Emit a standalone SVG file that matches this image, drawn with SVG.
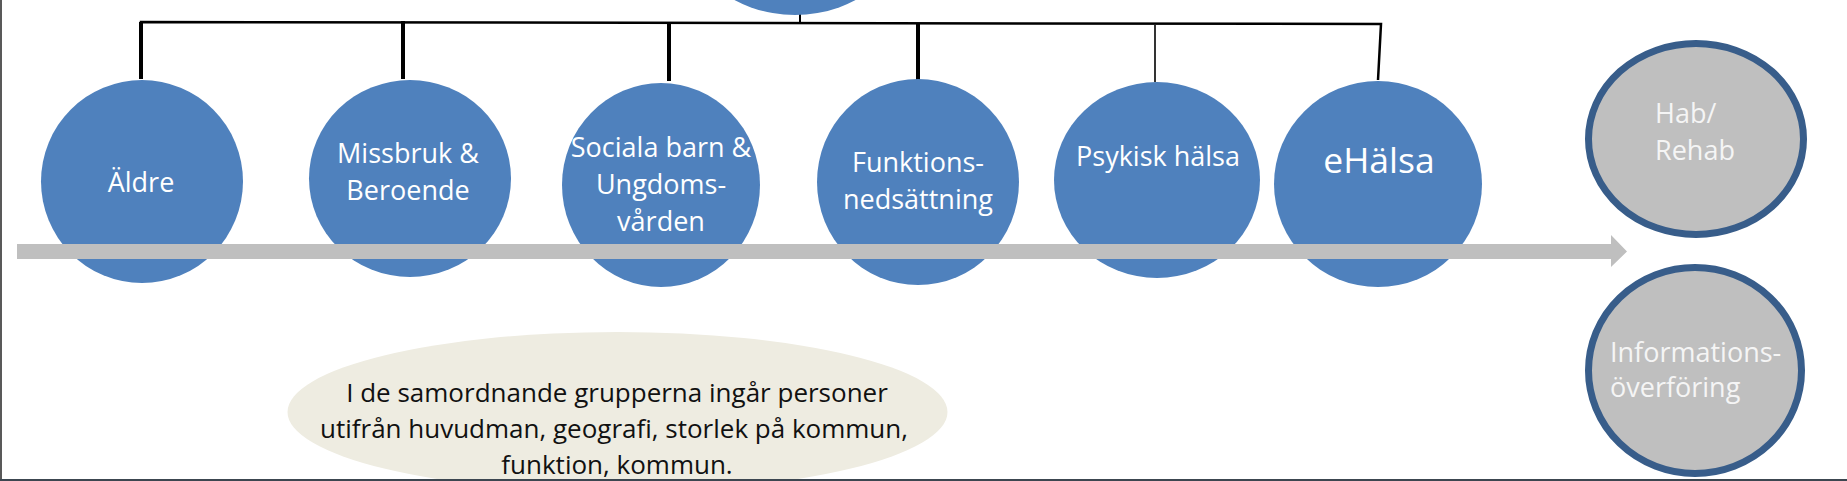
<svg xmlns="http://www.w3.org/2000/svg" width="1847" height="481" viewBox="0 0 1847 481">
<style>
.blue{fill:#4F81BD}
.gray{fill:#BFBFBF;stroke:#385D8A;stroke-width:7}
.t{font-family:"Open Sans","Liberation Sans",sans-serif;font-size:27px;fill:#FFFFFF;text-anchor:middle}
.tg{font-family:"Open Sans","Liberation Sans",sans-serif;font-size:27px;fill:#F5F5F5}
.tb{font-family:"Open Sans","Liberation Sans",sans-serif;font-size:26px;fill:#111111;text-anchor:middle}
.c{stroke:#000;fill:none}
</style>
<rect x="0" y="0" width="1847" height="481" fill="#FFFFFF"/>
<g id="connectors">
<polyline class="c" points="141,79 141,22 1381,24 1378,80" stroke-width="2.5"/>
<line class="c" x1="141" y1="22" x2="141" y2="79" stroke-width="4"/>
<line class="c" x1="403" y1="21" x2="403" y2="79" stroke-width="4"/>
<line class="c" x1="669" y1="23" x2="669" y2="81" stroke-width="4"/>
<line class="c" x1="918" y1="24" x2="918" y2="80" stroke-width="4"/>
<line class="c" x1="1155" y1="25" x2="1155" y2="82" stroke-width="1.6"/>
<line class="c" x1="800" y1="0" x2="800" y2="23" stroke-width="2"/>
</g>
<g id="top">
<ellipse class="blue" cx="795" cy="-85" rx="115" ry="100"/>
</g>
<g id="aldre">
<ellipse class="blue" cx="142" cy="181.5" rx="101" ry="101.5"/>
</g>
<g id="missbruk">
<ellipse class="blue" cx="410" cy="178.5" rx="101" ry="98.5"/>
</g>
<g id="sociala">
<ellipse class="blue" cx="661" cy="185" rx="99" ry="102"/>
</g>
<g id="funktion">
<ellipse class="blue" cx="918" cy="182" rx="101" ry="103"/>
</g>
<g id="psykisk">
<ellipse class="blue" cx="1157" cy="180" rx="103" ry="98"/>
</g>
<g id="ehalsa">
<ellipse class="blue" cx="1378" cy="184" rx="104" ry="103"/>
</g>
<g id="timeline">
<polygon points="17,244 1611,244 1611,235 1627,251.5 1611,267 1611,259 17,259" fill="#BFBFBF"/>
</g>
<g id="aldre-label">
<text class="t" x="141" y="192">Äldre</text>
</g>
<g id="missbruk-label">
<text class="t" x="408" y="163">Missbruk &amp;</text>
<text class="t" x="408" y="200">Beroende</text>
</g>
<g id="sociala-label">
<text class="t" x="661" y="157">Sociala barn &amp;</text>
<text class="t" x="661" y="194">Ungdoms-</text>
<text class="t" x="661" y="231">vården</text>
</g>
<g id="funktion-label">
<text class="t" x="918" y="172">Funktions-</text>
<text class="t" x="918" y="209">nedsättning</text>
</g>
<g id="psykisk-label">
<text class="t" x="1158" y="166">Psykisk hälsa</text>
</g>
<g id="ehalsa-label">
<text class="t" x="1379" y="173" style="font-size:35.5px">eHälsa</text>
</g>
<g id="hab">
<ellipse class="gray" cx="1696" cy="139" rx="107.5" ry="95.5"/>
<text class="tg" x="1655" y="123">Hab/</text>
<text class="tg" x="1655" y="160">Rehab</text>
</g>
<g id="info">
<ellipse class="gray" cx="1695" cy="370.5" rx="106.5" ry="103"/>
<text class="tg" x="1610" y="362">Informations-</text>
<text class="tg" x="1610" y="397">överföring</text>
</g>
<g id="note">
<ellipse cx="617.5" cy="412" rx="330" ry="80" fill="#EEECE1"/>
<text class="tb" x="617" y="402">I de samordnande grupperna ingår personer</text>
<text class="tb" x="614" y="438">utifrån huvudman, geografi, storlek på kommun,</text>
<text class="tb" x="617" y="474">funktion, kommun.</text>
</g>
<g id="frame">
<rect x="0" y="0" width="2" height="481" fill="#595959"/>
<rect x="0" y="479" width="1847" height="2" fill="#3C4650"/>
</g>
</svg>
